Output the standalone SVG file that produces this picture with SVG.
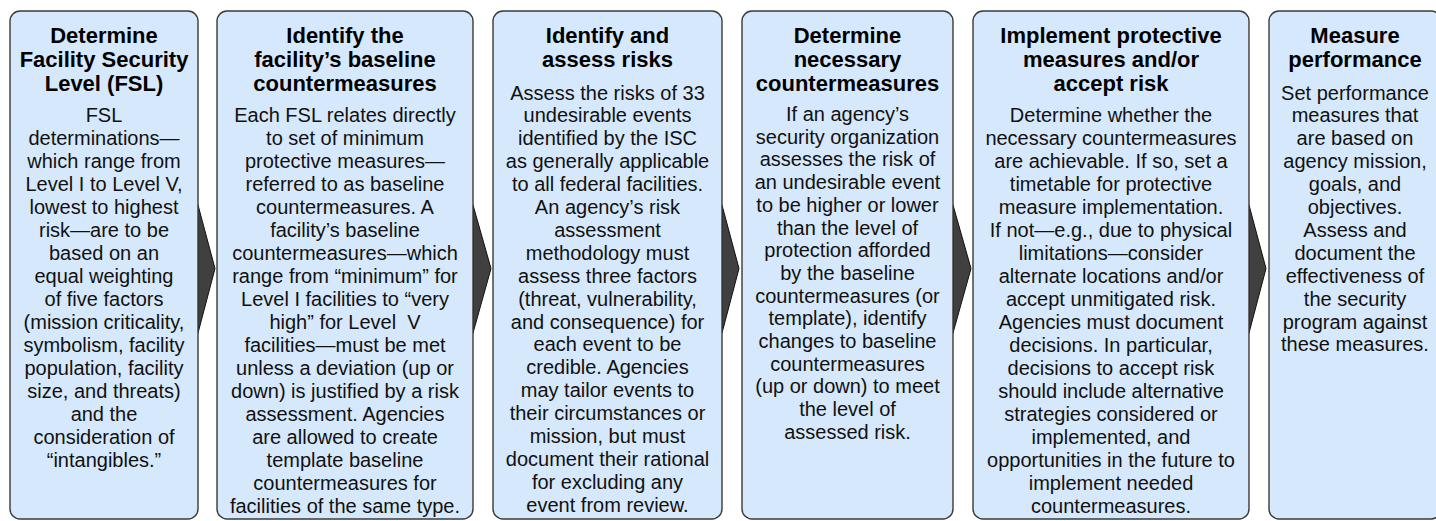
<svg xmlns="http://www.w3.org/2000/svg" width="1436" height="521" viewBox="0 0 1436 521">
<style>
.box{fill:#d6e8fb;stroke:#3a3a3a;stroke-width:1.4}
.arr{fill:#404040;stroke:#111;stroke-width:1}
.t{font-family:"Liberation Sans",Arial,sans-serif;font-size:22px;font-weight:bold;fill:#000;text-anchor:middle}
.b{font-family:"Liberation Sans",Arial,sans-serif;font-size:20px;fill:#111;text-anchor:middle}
</style>
<rect width="1436" height="521" fill="#fff"/>
<g id="connectors">
<polygon class="arr" points="198,205 215,268.5 198,333"/>
<polygon class="arr" points="473,205 491,268.5 473,333"/>
<polygon class="arr" points="722,205 739,268.5 722,333"/>
<polygon class="arr" points="953,205 971,268.5 953,333"/>
<polygon class="arr" points="1249,205 1266,268.5 1249,333"/>
</g>
<g id="node1">
<rect class="box" x="10" y="11" width="188" height="508" rx="10"/>
<text class="t"><tspan x="104" y="43">Determine</tspan><tspan x="104" y="67">Facility Security</tspan><tspan x="104" y="91">Level (FSL)</tspan></text>
<text class="b"><tspan x="104" y="122">FSL</tspan><tspan x="104" y="145">determinations—</tspan><tspan x="104" y="168">which range from</tspan><tspan x="104" y="191">Level I to Level V,</tspan><tspan x="104" y="214">lowest to highest</tspan><tspan x="104" y="237">risk—are to be</tspan><tspan x="104" y="260">based on an</tspan><tspan x="104" y="283">equal weighting</tspan><tspan x="104" y="306">of five factors</tspan><tspan x="104" y="329">(mission criticality,</tspan><tspan x="104" y="352">symbolism, facility</tspan><tspan x="104" y="375">population, facility</tspan><tspan x="104" y="398">size, and threats)</tspan><tspan x="104" y="421">and the</tspan><tspan x="104" y="444">consideration of</tspan><tspan x="104" y="467">“intangibles.”</tspan></text>
</g>
<g id="node2">
<rect class="box" x="217" y="11" width="256" height="508" rx="10"/>
<text class="t"><tspan x="345" y="43">Identify the</tspan><tspan x="345" y="67">facility’s baseline</tspan><tspan x="345" y="91">countermeasures</tspan></text>
<text class="b"><tspan x="345" y="122">Each FSL relates directly</tspan><tspan x="345" y="145">to set of minimum</tspan><tspan x="345" y="168">protective measures—</tspan><tspan x="345" y="191">referred to as baseline</tspan><tspan x="345" y="214">countermeasures. A</tspan><tspan x="345" y="237">facility’s baseline</tspan><tspan x="345" y="260">countermeasures—which</tspan><tspan x="345" y="283">range from “minimum” for</tspan><tspan x="345" y="306">Level I facilities to “very</tspan><tspan x="345" y="329">high” for Level &#160;V</tspan><tspan x="345" y="352">facilities—must be met</tspan><tspan x="345" y="375">unless a deviation (up or</tspan><tspan x="345" y="398">down) is justified by a risk</tspan><tspan x="345" y="421">assessment. Agencies</tspan><tspan x="345" y="444">are allowed to create</tspan><tspan x="345" y="467">template baseline</tspan><tspan x="345" y="490">countermeasures for</tspan><tspan x="345" y="513">facilities of the same type.</tspan></text>
</g>
<g id="node3">
<rect class="box" x="493" y="11" width="229" height="508" rx="10"/>
<text class="t"><tspan x="607.5" y="43">Identify and</tspan><tspan x="607.5" y="67">assess risks</tspan></text>
<text class="b"><tspan x="607.5" y="99.5">Assess the risks of 33</tspan><tspan x="607.5" y="122.4">undesirable events</tspan><tspan x="607.5" y="145.3">identified by the ISC</tspan><tspan x="607.5" y="168.2">as generally applicable</tspan><tspan x="607.5" y="191.1">to all federal facilities.</tspan><tspan x="607.5" y="214">An agency’s risk</tspan><tspan x="607.5" y="236.9">assessment</tspan><tspan x="607.5" y="259.8">methodology must</tspan><tspan x="607.5" y="282.7">assess three factors</tspan><tspan x="607.5" y="305.6">(threat, vulnerability,</tspan><tspan x="607.5" y="328.5">and consequence) for</tspan><tspan x="607.5" y="351.4">each event to be</tspan><tspan x="607.5" y="374.3">credible. Agencies</tspan><tspan x="607.5" y="397.2">may tailor events to</tspan><tspan x="607.5" y="420.1">their circumstances or</tspan><tspan x="607.5" y="443">mission, but must</tspan><tspan x="607.5" y="465.9">document their rational</tspan><tspan x="607.5" y="488.8">for excluding any</tspan><tspan x="607.5" y="511.7">event from review.</tspan></text>
</g>
<g id="node4">
<rect class="box" x="742" y="11" width="211" height="508" rx="10"/>
<text class="t"><tspan x="847.5" y="43">Determine</tspan><tspan x="847.5" y="67">necessary</tspan><tspan x="847.5" y="91">countermeasures</tspan></text>
<text class="b"><tspan x="847.5" y="121">If an agency’s</tspan><tspan x="847.5" y="143.7">security organization</tspan><tspan x="847.5" y="166.4">assesses the risk of</tspan><tspan x="847.5" y="189.1">an undesirable event</tspan><tspan x="847.5" y="211.8">to be higher or lower</tspan><tspan x="847.5" y="234.5">than the level of</tspan><tspan x="847.5" y="257.2">protection afforded</tspan><tspan x="847.5" y="279.9">by the baseline</tspan><tspan x="847.5" y="302.6">countermeasures (or</tspan><tspan x="847.5" y="325.3">template), identify</tspan><tspan x="847.5" y="348">changes to baseline</tspan><tspan x="847.5" y="370.7">countermeasures</tspan><tspan x="847.5" y="393.4">(up or down) to meet</tspan><tspan x="847.5" y="416.1">the level of</tspan><tspan x="847.5" y="438.8">assessed risk.</tspan></text>
</g>
<g id="node5">
<rect class="box" x="973" y="11" width="276" height="508" rx="10"/>
<text class="t"><tspan x="1111" y="43">Implement protective</tspan><tspan x="1111" y="67">measures and/or</tspan><tspan x="1111" y="91">accept risk</tspan></text>
<text class="b"><tspan x="1111" y="122">Determine whether the</tspan><tspan x="1111" y="145">necessary countermeasures</tspan><tspan x="1111" y="168">are achievable. If so, set a</tspan><tspan x="1111" y="191">timetable for protective</tspan><tspan x="1111" y="214">measure implementation.</tspan><tspan x="1111" y="237">If not—e.g., due to physical</tspan><tspan x="1111" y="260">limitations—consider</tspan><tspan x="1111" y="283">alternate locations and/or</tspan><tspan x="1111" y="306">accept unmitigated risk.</tspan><tspan x="1111" y="329">Agencies must document</tspan><tspan x="1111" y="352">decisions. In particular,</tspan><tspan x="1111" y="375">decisions to accept risk</tspan><tspan x="1111" y="398">should include alternative</tspan><tspan x="1111" y="421">strategies considered or</tspan><tspan x="1111" y="444">implemented, and</tspan><tspan x="1111" y="467">opportunities in the future to</tspan><tspan x="1111" y="490">implement needed</tspan><tspan x="1111" y="513">countermeasures.</tspan></text>
</g>
<g id="node6">
<rect class="box" x="1269" y="11" width="172" height="508" rx="10"/>
<text class="t"><tspan x="1355" y="43">Measure</tspan><tspan x="1355" y="67">performance</tspan></text>
<text class="b"><tspan x="1355" y="99.5">Set performance</tspan><tspan x="1355" y="122.4">measures that</tspan><tspan x="1355" y="145.3">are based on</tspan><tspan x="1355" y="168.2">agency mission,</tspan><tspan x="1355" y="191.1">goals, and</tspan><tspan x="1355" y="214">objectives.</tspan><tspan x="1355" y="236.9">Assess and</tspan><tspan x="1355" y="259.8">document the</tspan><tspan x="1355" y="282.7">effectiveness of</tspan><tspan x="1355" y="305.6">the security</tspan><tspan x="1355" y="328.5">program against</tspan><tspan x="1355" y="351.4">these measures.</tspan></text>
</g>
</svg>
